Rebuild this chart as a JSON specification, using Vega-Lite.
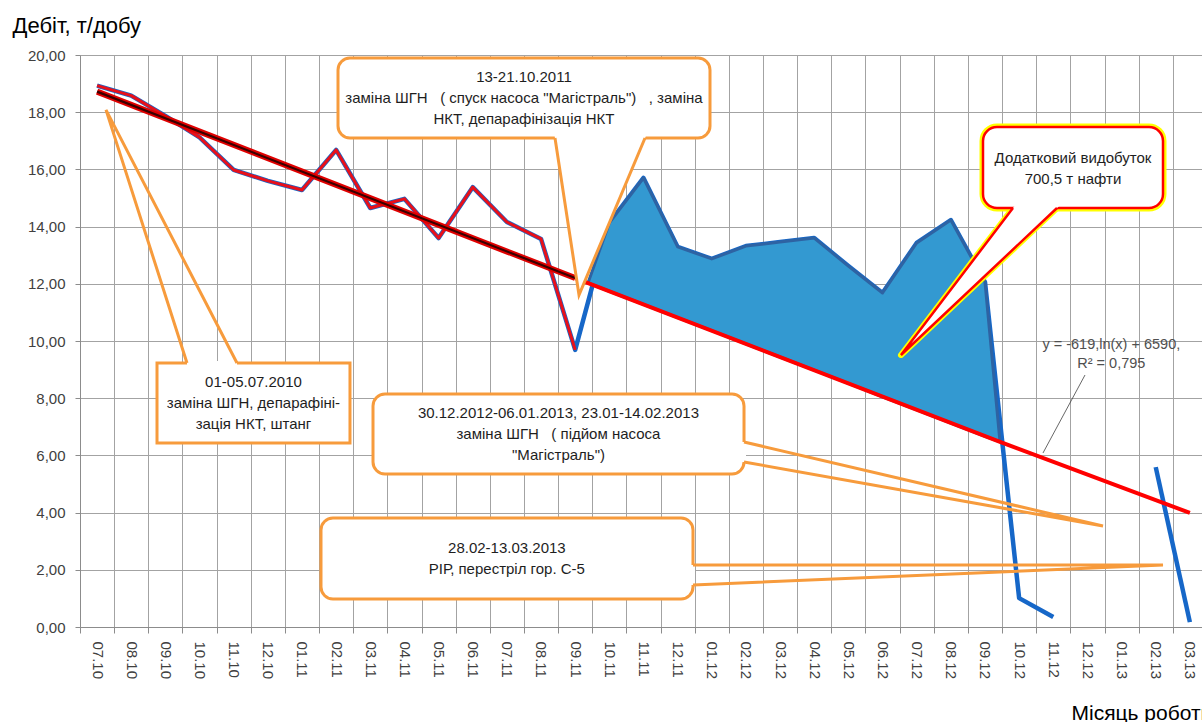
{
  "$schema": "https://vega.github.io/schema/vega-lite/v6.json",
  "width": 1122,
  "height": 572,
  "autosize": {"type": "none"},
  "padding": {"left": 80, "top": 55, "right": 0, "bottom": 95},
  "background": "white",
  "config": {"view": {"stroke": null}, "font": "Liberation Sans"},
  "datasets": {
    "series": [
      {"x": 0, "m": "07.10", "y": 18.93, "seg": "a"},
      {"x": 1, "m": "08.10", "y": 18.58, "seg": "a"},
      {"x": 2, "m": "09.10", "y": 17.87, "seg": "a"},
      {"x": 3, "m": "10.10", "y": 17.12, "seg": "a"},
      {"x": 4, "m": "11.10", "y": 15.98, "seg": "a"},
      {"x": 5, "m": "12.10", "y": 15.6, "seg": "a"},
      {"x": 6, "m": "01.11", "y": 15.28, "seg": "a"},
      {"x": 7, "m": "02.11", "y": 16.68, "seg": "a"},
      {"x": 8, "m": "03.11", "y": 14.65, "seg": "a"},
      {"x": 9, "m": "04.11", "y": 14.97, "seg": "a"},
      {"x": 10, "m": "05.11", "y": 13.6, "seg": "a"},
      {"x": 11, "m": "06.11", "y": 15.38, "seg": "a"},
      {"x": 12, "m": "07.11", "y": 14.16, "seg": "a"},
      {"x": 13, "m": "08.11", "y": 13.57, "seg": "a"},
      {"x": 14, "m": "09.11", "y": 9.69, "seg": "a"},
      {"x": 15, "m": "10.11", "y": 14.13, "seg": "a"},
      {"x": 16, "m": "11.11", "y": 15.7, "seg": "a"},
      {"x": 17, "m": "12.11", "y": 13.29, "seg": "a"},
      {"x": 18, "m": "01.12", "y": 12.87, "seg": "a"},
      {"x": 19, "m": "02.12", "y": 13.32, "seg": "a"},
      {"x": 20, "m": "03.12", "y": 13.46, "seg": "a"},
      {"x": 21, "m": "04.12", "y": 13.6, "seg": "a"},
      {"x": 22, "m": "05.12", "y": 12.62, "seg": "a"},
      {"x": 23, "m": "06.12", "y": 11.68, "seg": "a"},
      {"x": 24, "m": "07.12", "y": 13.43, "seg": "a"},
      {"x": 25, "m": "08.12", "y": 14.23, "seg": "a"},
      {"x": 26, "m": "09.12", "y": 12.06, "seg": "a"},
      {"x": 27, "m": "10.12", "y": 1.01, "seg": "a"},
      {"x": 28, "m": "11.12", "y": 0.35, "seg": "a"},
      {"x": 31, "m": "02.13", "y": 5.59, "seg": "b"},
      {"x": 32, "m": "03.13", "y": 0.17, "seg": "b"}
    ],
    "gain": [
      {"x": 14.375, "y": 12.03, "y2": 12.03},
      {"x": 15, "y": 14.13, "y2": 11.74},
      {"x": 16, "y": 15.7, "y2": 11.28},
      {"x": 17, "y": 13.29, "y2": 10.82},
      {"x": 18, "y": 12.87, "y2": 10.36},
      {"x": 19, "y": 13.32, "y2": 9.9},
      {"x": 20, "y": 13.46, "y2": 9.44},
      {"x": 21, "y": 13.6, "y2": 8.98},
      {"x": 22, "y": 12.62, "y2": 8.52},
      {"x": 23, "y": 11.68, "y2": 8.05},
      {"x": 24, "y": 13.43, "y2": 7.59},
      {"x": 25, "y": 14.23, "y2": 7.13},
      {"x": 26, "y": 12.06, "y2": 6.67},
      {"x": 26.44, "y": 6.47, "y2": 6.47}
    ],
    "trendPre": [{"x": 0, "y": 18.72}, {"x": 14, "y": 12.2}],
    "trendPost": [{"x": 14, "y": 12.2}, {"x": 26.44, "y": 6.47}, {"x": 32, "y": 3.99}],
    "boxSquare": [{"x": 1.755, "x2": 7.406, "y": 9.231, "y2": 6.434}],
    "boxRound": [
      {"x": 7.055, "x2": 17.948, "y": 19.895, "y2": 17.098},
      {"x": 8.08, "x2": 18.944, "y": 8.147, "y2": 5.35},
      {"x": 6.557, "x2": 17.45, "y": 3.811, "y2": 0.979}
    ],
    "boxRed": [{"x": 25.942, "x2": 31.213, "y": 17.483, "y2": 14.65}],
    "wedgeFillB": [{"y": 17.203, "x": 13.394, "x2": 16.083}, {"y": 11.608, "x": 14.112, "x2": 14.112}],
    "wedgeFillE": [{"y": 14.755, "x": 26.888, "x2": 28.203}, {"y": 9.51, "x": 23.541, "x2": 23.541}],
    "gaps": [
      {"x": 2.633, "y": 9.231, "x2": 4.097, "y2": 9.231},
      {"x": 18.944, "y": 6.469, "x2": 18.944, "y2": 5.769},
      {"x": 17.45, "y": 2.168, "x2": 17.45, "y2": 1.469}
    ],
    "wedgeOrange": [
      {"w": "A", "k": 1, "x": 2.633, "y": 9.231}, {"w": "A", "k": 2, "x": 0.261, "y": 18.08}, {"w": "A", "k": 3, "x": 4.097, "y": 9.231},
      {"w": "B", "k": 1, "x": 13.409, "y": 17.098}, {"w": "B", "k": 2, "x": 14.112, "y": 11.608}, {"w": "B", "k": 3, "x": 16.045, "y": 17.098},
      {"w": "C", "k": 1, "x": 18.944, "y": 6.469}, {"w": "C", "k": 2, "x": 29.456, "y": 3.531}, {"w": "C", "k": 3, "x": 18.944, "y": 5.769},
      {"w": "D", "k": 1, "x": 17.45, "y": 2.168}, {"w": "D", "k": 2, "x": 31.213, "y": 2.168}, {"w": "D", "k": 3, "x": 17.45, "y": 1.469}
    ],
    "wedgeRed": [
      {"w": "E", "k": 1, "x": 26.82, "y": 14.65}, {"w": "E", "k": 2, "x": 23.541, "y": 9.51}, {"w": "E", "k": 3, "x": 28.109, "y": 14.65}
    ],
    "leader": [{"x": 28.929, "y": 8.811, "x2": 27.699, "y2": 6.084}],
    "notes": [
      {"x": 4.58, "y": 8.566, "t": "01-05.07.2010"},
      {"x": 4.58, "y": 7.832, "t": "заміна ШГН, депарафіні-"},
      {"x": 4.58, "y": 7.098, "t": "зація НКТ, штанг"},
      {"x": 12.5, "y": 19.23, "t": "13-21.10.2011"},
      {"x": 12.5, "y": 18.5, "t": "заміна ШГН\u00a0\u00a0 ( спуск насоса \"Магістраль\")\u00a0\u00a0 , заміна"},
      {"x": 12.5, "y": 17.76, "t": "НКТ, депарафінізація НКТ"},
      {"x": 13.51, "y": 7.483, "t": "30.12.2012-06.01.2013, 23.01-14.02.2013"},
      {"x": 13.51, "y": 6.748, "t": "заміна ШГН\u00a0\u00a0 ( підйом насоса"},
      {"x": 13.51, "y": 6.014, "t": "\"Магістраль\")"},
      {"x": 12.0, "y": 2.762, "t": "28.02-13.03.2013"},
      {"x": 12.0, "y": 2.028, "t": "РІР, перестріл гор. С-5"},
      {"x": 28.577, "y": 16.399, "t": "Додатковий видобуток"},
      {"x": 28.577, "y": 15.664, "t": "700,5 т нафти"}
    ],
    "equation": [
      {"x": 29.7, "y": 9.86, "t": "y = -619,ln(x) + 6590,"},
      {"x": 29.7, "y": 9.196, "t": "R² = 0,795"}
    ]
  },
  "encoding": {
    "x": {
      "field": "x",
      "type": "quantitative",
      "scale": {"domain": [-0.5, 32.355], "nice": false, "zero": false},
      "axis": {
        "title": "Місяць роботи",
        "values": [-0.5, 0.5, 1.5, 2.5, 3.5, 4.5, 5.5, 6.5, 7.5, 8.5, 9.5, 10.5, 11.5, 12.5, 13.5, 14.5, 15.5, 16.5, 17.5, 18.5, 19.5, 20.5, 21.5, 22.5, 23.5, 24.5, 25.5, 26.5, 27.5, 28.5, 29.5, 30.5, 31.5],
        "labelExpr": "['07.10','08.10','09.10','10.10','11.10','12.10','01.11','02.11','03.11','04.11','05.11','06.11','07.11','08.11','09.11','10.11','11.11','12.11','01.12','02.12','03.12','04.12','05.12','06.12','07.12','08.12','09.12','10.12','11.12','12.12','01.13','02.13','03.13'][round(datum.value + 0.5)]",
        "labelAngle": 90,
        "labelAlign": "left",
        "labelBaseline": "middle",
        "labelOffset": 17,
        "labelPadding": 8,
        "labelFlush": false,
        "labelOverlap": false,
        "labelBound": false,
        "labelFontSize": 15,
        "labelColor": "#404040",
        "tickSize": 6,
        "tickColor": "#8c8c8c",
        "domainColor": "#8c8c8c",
        "grid": true,
        "gridColor": "#a3a3a3",
        "gridOpacity": 1,
        "titleX": 991,
        "titleY": 92,
        "titleAlign": "left",
        "titleBaseline": "alphabetic",
        "titleFontSize": 21,
        "titleFontWeight": "normal",
        "titleColor": "#000000"
      }
    },
    "y": {
      "field": "y",
      "type": "quantitative",
      "scale": {"domain": [0, 20], "nice": false},
      "axis": {
        "title": "Дебіт, т/добу",
        "values": [0, 2, 4, 6, 8, 10, 12, 14, 16, 18, 20],
        "labelExpr": "replace(format(datum.value, '.2f'), '.', ',')",
        "labelFontSize": 15,
        "labelColor": "#404040",
        "labelPadding": 10,
        "labelFlush": false,
        "tickSize": 5,
        "tickColor": "#8c8c8c",
        "domainColor": "#8c8c8c",
        "grid": true,
        "gridColor": "#a3a3a3",
        "gridOpacity": 1,
        "titleAngle": 0,
        "titleX": -68,
        "titleY": -23,
        "titleAlign": "left",
        "titleBaseline": "alphabetic",
        "titleFontSize": 22,
        "titleFontWeight": "normal",
        "titleColor": "#000000"
      }
    }
  },
  "layer": [
    {
      "data": {"name": "series"},
      "mark": {"type": "line", "color": "#1667c8", "strokeWidth": 4.5, "strokeJoin": "round"},
      "encoding": {"detail": {"field": "seg"}}
    },
    {
      "data": {"name": "gain"},
      "mark": {"type": "area", "orient": "vertical", "fill": "#3399d1", "fillOpacity": 1, "stroke": "#2e63a3", "strokeWidth": 3, "strokeJoin": "round"},
      "encoding": {"y2": {"field": "y2"}}
    },
    {
      "data": {"name": "series"},
      "transform": [{"filter": "datum.x <= 14"}],
      "mark": {"type": "line", "color": "#e8101a", "strokeWidth": 3, "strokeJoin": "round"},
      "encoding": {}
    },
    {
      "data": {"name": "trendPre"},
      "mark": {"type": "line", "color": "#e00000", "strokeWidth": 6},
      "encoding": {}
    },
    {
      "data": {"name": "trendPre"},
      "mark": {"type": "line", "color": "#3a0000", "strokeWidth": 2.2},
      "encoding": {}
    },
    {
      "data": {"name": "trendPost"},
      "mark": {"type": "line", "color": "#ff0000", "strokeWidth": 4},
      "encoding": {}
    },
    {
      "data": {"name": "boxSquare"},
      "mark": {"type": "rect", "fill": "#ffffff", "stroke": "#f79b3c", "strokeWidth": 3},
      "encoding": {"x2": {"field": "x2"}, "y2": {"field": "y2"}}
    },
    {
      "data": {"name": "boxRound"},
      "mark": {"type": "rect", "fill": "#ffffff", "stroke": "#f79b3c", "strokeWidth": 3, "cornerRadius": 12},
      "encoding": {"x2": {"field": "x2"}, "y2": {"field": "y2"}}
    },
    {
      "data": {"name": "wedgeFillB"},
      "mark": {"type": "area", "orient": "horizontal", "fill": "#ffffff", "fillOpacity": 1},
      "encoding": {"x2": {"field": "x2"}}
    },
    {
      "data": {"name": "gaps"},
      "mark": {"type": "rule", "color": "#ffffff", "strokeWidth": 4},
      "encoding": {"x2": {"field": "x2"}, "y2": {"field": "y2"}}
    },
    {
      "data": {"name": "wedgeOrange"},
      "mark": {"type": "line", "color": "#f79b3c", "strokeWidth": 3, "strokeJoin": "miter"},
      "encoding": {"detail": {"field": "w"}, "order": {"field": "k"}}
    },
    {
      "data": {"name": "boxRed"},
      "mark": {"type": "rect", "fill": "#ffffff", "stroke": "#ffff00", "strokeWidth": 7, "cornerRadius": 14},
      "encoding": {"x2": {"field": "x2"}, "y2": {"field": "y2"}}
    },
    {
      "data": {"name": "wedgeRed"},
      "mark": {"type": "line", "color": "#ffff00", "strokeWidth": 6, "strokeJoin": "round"},
      "encoding": {"order": {"field": "k"}}
    },
    {
      "data": {"name": "boxRed"},
      "mark": {"type": "rect", "fill": "#ffffff", "stroke": "#ff0000", "strokeWidth": 2.5, "cornerRadius": 14},
      "encoding": {"x2": {"field": "x2"}, "y2": {"field": "y2"}}
    },
    {
      "data": {"name": "wedgeFillE"},
      "mark": {"type": "area", "orient": "horizontal", "fill": "#ffffff", "fillOpacity": 1},
      "encoding": {"x2": {"field": "x2"}}
    },
    {
      "data": {"name": "wedgeRed"},
      "mark": {"type": "line", "color": "#ff0000", "strokeWidth": 2.5, "strokeJoin": "miter"},
      "encoding": {"order": {"field": "k"}}
    },
    {
      "data": {"name": "leader"},
      "mark": {"type": "rule", "color": "#404040", "strokeWidth": 0.8},
      "encoding": {"x2": {"field": "x2"}, "y2": {"field": "y2"}}
    },
    {
      "data": {"name": "notes"},
      "mark": {"type": "text", "align": "center", "baseline": "middle", "fontSize": 15, "color": "#1e1e1e", "font": "Liberation Sans"},
      "encoding": {"text": {"field": "t"}}
    },
    {
      "data": {"name": "equation"},
      "mark": {"type": "text", "align": "center", "baseline": "middle", "fontSize": 14.5, "color": "#505050", "font": "Liberation Sans"},
      "encoding": {"text": {"field": "t"}}
    }
  ]
}
